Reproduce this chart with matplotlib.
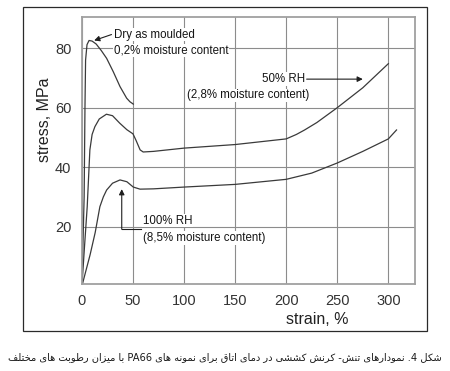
import re
import matplotlib
matplotlib.use('Agg')
import matplotlib.pyplot as plt
from matplotlib import font_manager
from matplotlib.patches import Rectangle

# stress-strain curves (strain %, stress MPa)
dry_strain = [0, 2.2, 3.0, 3.6, 5, 7, 10, 14, 19, 24.2, 30.7, 37.3, 43.8, 47, 50.3]
dry_stress = [0, 30, 60, 76, 81.2, 82.6, 82.4, 81.4, 79.2, 76.6, 72.1, 67.1, 63.2, 62.0, 61.2]

rh50_strain = [0, 2.5, 5.2, 7.8, 10, 12.7, 17, 24, 30, 37, 44, 50, 53, 57, 60, 70, 100, 150, 200,
               210, 218, 230, 250, 275, 300]
rh50_stress = [0, 13, 26.7, 45.8, 51, 53.6, 56.2, 57.8, 57.3, 54.8, 52.6, 51.2, 49.0, 45.8, 45.1,
               45.3, 46.4, 47.6, 49.5, 51, 52.5, 55, 60, 66.7, 74.8]

rh100_strain = [0, 8, 13, 17.6, 21, 24.2, 30, 37.3, 44, 50.3, 56.9, 70, 100, 150, 200, 225, 250,
                275, 300, 308]
rh100_stress = [0, 10.5, 18, 26.7, 30, 32.3, 34.6, 35.7, 35.1, 33.3, 32.6, 32.7, 33.3, 34.2, 35.9,
                38, 41.4, 45.3, 49.5, 52.5]

x_ticks = [0, 50, 100, 150, 200, 250, 300]
y_ticks = [20, 40, 60, 80]

caption = 'شکل 4. نمودارهای تنش- کرنش کششی در دمای اتاق برای نمونه های PA66 با میزان رطوبت های مختلف'

# minimal persian shaping (matplotlib draws no joined forms by itself)
FORMS = {
    'ا': ('\ufe8d', '\ufe8e', None, None),
    'ب': ('\ufe8f', '\ufe90', '\ufe91', '\ufe92'),
    'ت': ('\ufe95', '\ufe96', '\ufe97', '\ufe98'),
    'خ': ('\ufea5', '\ufea6', '\ufea7', '\ufea8'),
    'د': ('\ufea9', '\ufeaa', None, None),
    'ر': ('\ufead', '\ufeae', None, None),
    'ز': ('\ufeaf', '\ufeb0', None, None),
    'ش': ('\ufeb5', '\ufeb6', '\ufeb7', '\ufeb8'),
    'ط': ('\ufec1', '\ufec2', '\ufec3', '\ufec4'),
    'ف': ('\ufed1', '\ufed2', '\ufed3', '\ufed4'),
    'ق': ('\ufed5', '\ufed6', '\ufed7', '\ufed8'),
    'ل': ('\ufedd', '\ufede', '\ufedf', '\ufee0'),
    'م': ('\ufee1', '\ufee2', '\ufee3', '\ufee4'),
    'ن': ('\ufee5', '\ufee6', '\ufee7', '\ufee8'),
    'ه': ('\ufee9', '\ufeea', '\ufeeb', '\ufeec'),
    'و': ('\ufeed', '\ufeee', None, None),
    'ک': ('\ufb8e', '\ufb8f', '\ufb90', '\ufb91'),
    'ی': ('\ufbfc', '\ufbfd', '\ufbfe', '\ufbff'),
}


def shape(s):
    out = []
    for i, ch in enumerate(s):
        if ch not in FORMS:
            out.append(ch)
            continue
        prev = s[i - 1] if i > 0 else ''
        nxt = s[i + 1] if i + 1 < len(s) else ''
        join_prev = prev in FORMS and FORMS[prev][2] is not None
        join_next = nxt in FORMS and FORMS[ch][2] is not None
        iso, fin, ini, med = FORMS[ch]
        if join_prev and join_next:
            out.append(med)
        elif join_prev:
            out.append(fin)
        elif join_next:
            out.append(ini)
        else:
            out.append(iso)
    return ''.join(out)


def visual(s):
    r = shape(s)[::-1]
    return re.sub(r'[A-Za-z0-9]+', lambda m: m.group(0)[::-1], r)


names = {f.name for f in font_manager.fontManager.ttflist}
narrow = 'Liberation Sans Narrow' if 'Liberation Sans Narrow' in names else 'Liberation Sans'
note_size = 10 if narrow == 'Liberation Sans Narrow' else 8.3

plt.rcParams['font.family'] = ['Liberation Sans', 'DejaVu Sans']

fig = plt.figure(figsize=(4.5, 3.71), dpi=100)
ax = fig.add_axes([0.182, 0.2345, 0.740, 0.7197])

line_kw = dict(color='#3a3a3a', lw=0.9, zorder=2)
ax.plot(dry_strain, dry_stress, **line_kw)
ax.plot(rh50_strain, rh50_stress, **line_kw)
ax.plot(rh100_strain, rh100_stress, **line_kw)

ax.set_xlim(0, 326)
ax.set_ylim(0.7, 90.5)
ax.set_xticks(x_ticks)
ax.set_yticks(y_ticks)
ax.grid(True, color='#8c8c8c', lw=0.8)
ax.set_axisbelow(True)
ax.tick_params(length=0, labelsize=10.5, colors='#333333')
ax.tick_params(axis='y', pad=7.5)
ax.tick_params(axis='x', pad=7)
for sp in ax.spines.values():
    sp.set_color('#a0a0a0')
    sp.set_linewidth(1.3)

ax.set_xlabel('strain, %', fontsize=11.5, color='#222222')
ax.set_ylabel('stress, MPa', fontsize=11.5, color='#222222')
ax.xaxis.set_label_coords(0.707, -0.105)
ax.yaxis.set_label_coords(-0.09, 0.614)

note = dict(family=narrow, fontsize=note_size, color='#151515', va='center', ha='left',
            zorder=4, bbox=dict(facecolor='white', edgecolor='none', pad=0.6))
arrow = dict(arrowstyle='-|>', color='#1e1e1e', lw=0.8, mutation_scale=8, shrinkA=0, shrinkB=0)

ax.text(31, 84.6, 'Dry as moulded', **note)
ax.text(31, 79.2, '0,2% moisture content', **note)
ax.annotate('', xy=(12, 82.6), xytext=(29, 84.6), arrowprops=arrow, zorder=4)

ax.text(176, 69.6, '50% RH', **note)
ax.text(102.5, 64.1, '(2,8% moisture content)', **note)
ax.annotate('', xy=(275, 69.6), xytext=(220, 69.6), arrowprops=arrow, zorder=4)

ax.text(60, 22.0, '100% RH', **note)
ax.text(60, 16.1, '(8,5% moisture content)', **note)
ax.plot([39, 58], [19.1, 19.1], color='#1e1e1e', lw=0.8, zorder=3)
ax.annotate('', xy=(39, 32.6), xytext=(39, 19.1), arrowprops=arrow, zorder=4)

# outer frame around the chart
fig.patches.append(Rectangle((23 / 450, 40 / 371), 403.5 / 450, 324 / 371,
                             transform=fig.transFigure, fill=False, ec='#2a2a2a', lw=0.9))

fig.text(0.5, (371 - 357) / 371, visual(caption), family='DejaVu Sans', fontsize=7.1,
         color='#1a1a1a', ha='center', va='center')

fig.savefig('out.png', dpi=100)
